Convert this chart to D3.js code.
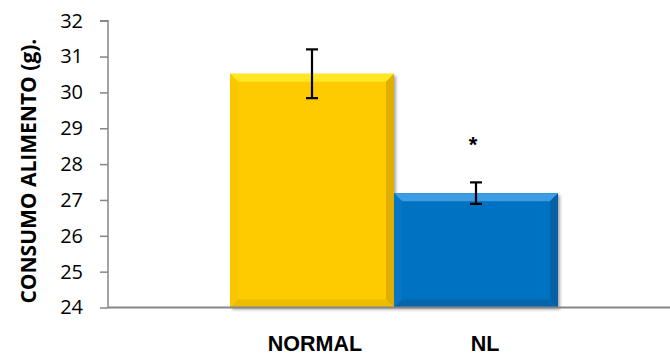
<!DOCTYPE html>
<html><head><meta charset="utf-8">
<script src="https://cdn.jsdelivr.net/npm/d3@7"></script>
<style>body{margin:0;background:#fff}svg{display:block}</style>
</head><body>
<script>
const categories = ["NORMAL", "NL"];
const values = [30.52, 27.19];
const errors = [0.68, 0.30];
const significance = ["", "*"];
const yTicks = [24, 25, 26, 27, 28, 29, 30, 31, 32];
const yTitle = "CONSUMO ALIMENTO (g).";

const palette = [
  {main:"#FECB00", top:"#FFE823", left:"#FAC600", right:"#E0AE00", bottom:"#EDBB00"},
  {main:"#0672C2", top:"#3C9DE2", left:"#0875C5", right:"#0560A5", bottom:"#0566AE"}
];

const W = 670, H = 356;
const svg = d3.select("body").append("svg").attr("width", W).attr("height", H);
const defs = svg.append("defs");
const f = defs.append("filter").attr("id","sh").attr("x","-10%").attr("y","-10%").attr("width","130%").attr("height","130%");
f.append("feDropShadow").attr("dx",2).attr("dy",2).attr("stdDeviation",1.8).attr("flood-color","#000").attr("flood-opacity",0.35);

const axisX = 108, plotRight = 670;
const y = d3.scaleLinear().domain([24, 32]).range([307.5, 20.7]);
const x = d3.scaleBand().domain(categories).range([230, 558]).padding(0);
const xl = d3.scaleBand().domain(categories).range([230, 570]).padding(0);

// bars
const bev = 8;
const g = svg.append("g");
categories.forEach((c, i) => {
  const x0 = x(c), x1 = x0 + x.bandwidth();
  const y0 = y(values[i]), y1 = y(24);
  const p = palette[i];
  const bg = g.append("g");
  bg.append("rect").attr("x", x0).attr("y", y0).attr("width", x1 - x0).attr("height", y1 - y0)
    .attr("fill", p.main).attr("filter", "url(#sh)");
  const poly = (pts, col) => bg.append("polygon").attr("points", pts.map(q => q.join(",")).join(" ")).attr("fill", col);
  poly([[x0,y0],[x1,y0],[x1-bev,y0+bev],[x0+bev,y0+bev]], p.top);
  poly([[x0,y0],[x0+bev,y0+bev],[x0+bev,y1-bev],[x0,y1]], p.left);
  poly([[x1,y0],[x1,y1],[x1-bev,y1-bev],[x1-bev,y0+bev]], p.right);
  poly([[x0,y1],[x0+bev,y1-bev],[x1-bev,y1-bev],[x1,y1]], p.bottom);
});

// axes
const axisColor = "#868686";
const yAxis = d3.axisLeft(y).tickValues(yTicks).tickSize(8).tickPadding(17).tickFormat(d3.format("d"));
const ya = svg.append("g").attr("transform", `translate(${axisX},0)`).call(yAxis);
ya.select(".domain").attr("stroke", axisColor).attr("stroke-width", 1.5).attr("d", `M-8,${y(32)}H0V${y(24)}`);
ya.selectAll(".tick line").attr("stroke", axisColor).attr("stroke-width", 1.5);
ya.selectAll(".tick text").attr("font-family", "'Open Sans', sans-serif").attr("font-size", 20).attr("fill", "#000");

svg.append("line").attr("x1", axisX).attr("x2", plotRight).attr("y1", y(24)).attr("y2", y(24))
  .attr("stroke", axisColor).attr("stroke-width", 2);

// x labels
svg.append("g").selectAll("text").data(categories).join("text")
  .attr("x", d => xl(d) + xl.bandwidth()/2).attr("y", 351)
  .attr("text-anchor", "middle").attr("font-family", "'Liberation Sans', Arial, sans-serif")
  .attr("font-weight", "bold").attr("font-size", 21.5).attr("fill", "#000").text(d => d);

// error bars
const eb = svg.append("g").attr("stroke", "#000").attr("stroke-width", 2.2);
categories.forEach((c, i) => {
  const cx = x(c) + x.bandwidth()/2;
  const yt = y(values[i] + errors[i]), yb = y(values[i] - errors[i]);
  eb.append("line").attr("x1", cx).attr("x2", cx).attr("y1", yt).attr("y2", yb);
  eb.append("line").attr("x1", cx-6).attr("x2", cx+6).attr("y1", yt).attr("y2", yt);
  eb.append("line").attr("x1", cx-6).attr("x2", cx+6).attr("y1", yb).attr("y2", yb);
  if (significance[i]) {
    svg.append("text").attr("x", cx - 3).attr("y", y(values[i] + errors[i]) - 30)
      .attr("text-anchor", "middle").attr("font-family", "'Liberation Sans', Arial, sans-serif")
      .attr("font-weight", "bold").attr("font-size", 22).attr("fill", "#000").text(significance[i]);
  }
});

// y title
svg.append("text").attr("transform", `translate(36,${(y(32)+y(24))/2 + 7}) rotate(-90)`)
  .attr("text-anchor", "middle").attr("font-family", "'Open Sans', sans-serif")
  .attr("font-weight", "bold").attr("font-size", 21).attr("fill", "#000").text(yTitle);
</script>
</body></html>
